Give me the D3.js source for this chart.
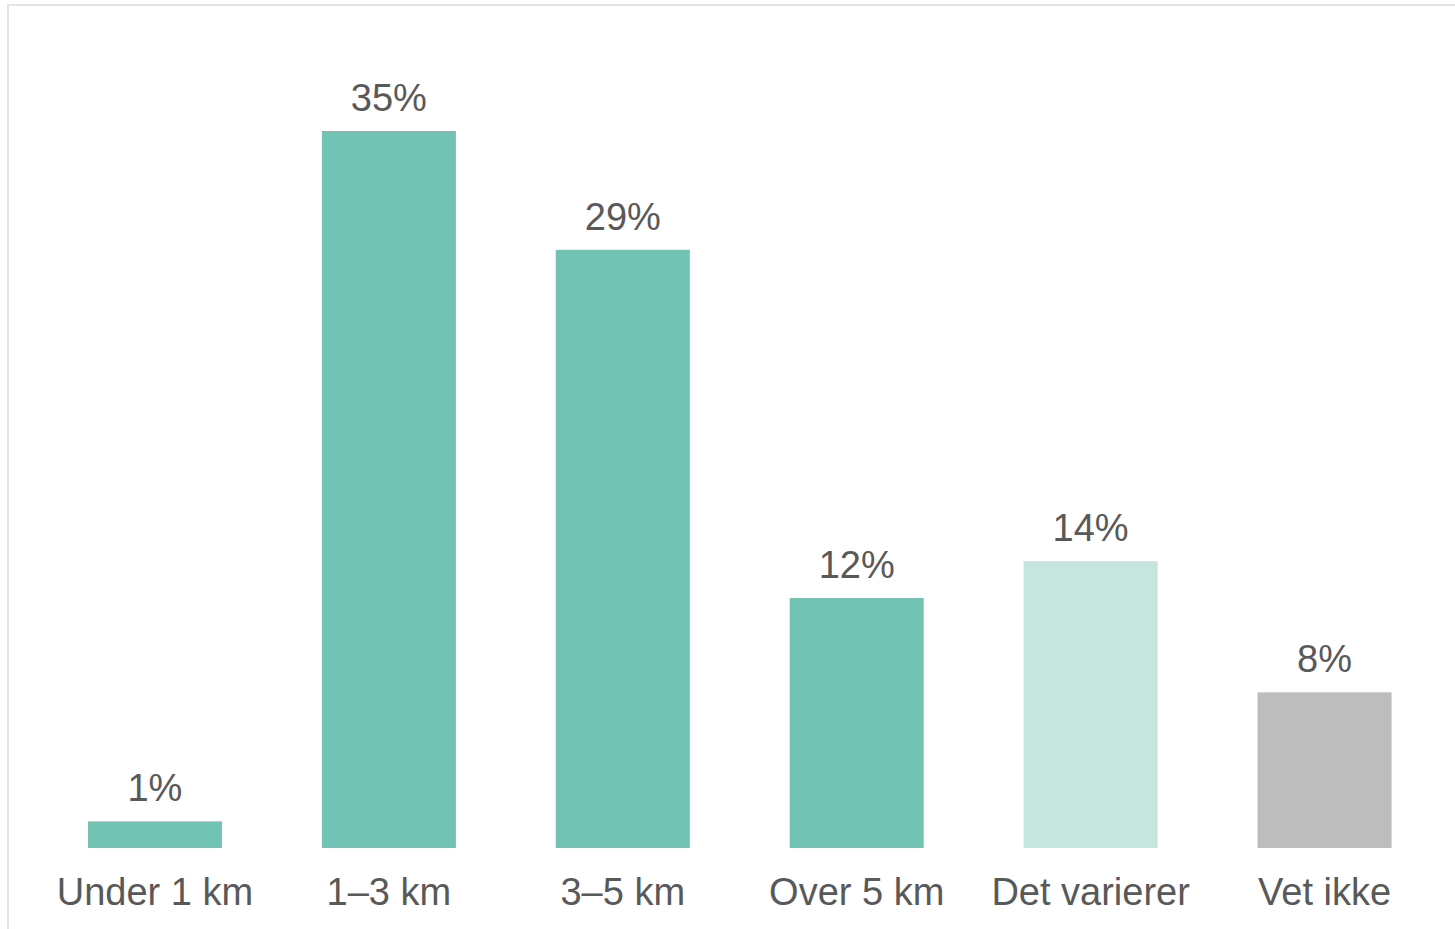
<html>

<head>
    <style>
        body { margin: 0; background: white; }
    </style>
</head>

<body>
    <svg id="container" height="929" width="1455">
        <g id="body" />
    </svg>
</body>
<script src="https://cdn.jsdelivr.net/npm/d3@7"></script>

<script>
    // data
    let categories = ["Under 1 km", "1–3 km", "3–5 km", "Over 5 km", "Det varierer", "Vet ikke"]
    let values = [1.3, 35, 29.2, 12.2, 14, 7.6]
    let labels = ["1%", "35%", "29%", "12%", "14%", "8%"]
    let barColors = ["#71c3b3", "#71c3b3", "#71c3b3", "#71c3b3", "#c5e6df", "#bdbdbd"]

    let svg = d3.select("#container")
    let body = d3.select("#body")
    let baseline = 848
    let font = "'Liberation Sans', Arial, sans-serif"

    // light frame (only top and left edges show)
    svg.insert("rect", "#body")
        .attr("x", 8).attr("y", 5)
        .attr("width", 1500).attr("height", 1000)
        .attr("fill", "white")
        .attr("stroke", "#e4e4e4")
        .attr("stroke-width", 2)

    let x = d3.scaleBand()
        .domain(categories)
        .range([38, 1441.5])
        .paddingInner(0.427)
        .paddingOuter(0.2135)

    let y = d3.scaleLinear()
        .domain([0, 35])
        .range([baseline, 131])

    let data = categories.map((c, i) => ({ cat: c, value: values[i], label: labels[i], color: barColors[i] }))

    body.selectAll("rect.bar").data(data)
        .enter().append("rect")
        .attr("class", "bar")
        .attr("x", d => x(d.cat))
        .attr("width", x.bandwidth())
        .attr("y", d => y(d.value))
        .attr("height", d => baseline - y(d.value))
        .attr("fill", d => d.color)

    body.selectAll("text.value").data(data)
        .enter().append("text")
        .attr("class", "value")
        .attr("x", d => x(d.cat) + x.bandwidth() / 2)
        .attr("y", d => y(d.value) - 20)
        .attr("text-anchor", "middle")
        .attr("font-family", font)
        .attr("font-size", 38)
        .attr("fill", "#595959")
        .text(d => d.label)

    // category axis labels
    let xAxis = d3.axisBottom(x).tickSize(0).tickPadding(0)
    let axisG = body.append("g")
        .attr("transform", `translate(0, ${baseline})`)
        .call(xAxis)
    axisG.select(".domain").remove()
    axisG.selectAll("text")
        .attr("dy", null)
        .attr("y", 57)
        .attr("font-family", font)
        .attr("font-size", 38)
        .attr("fill", "#595959")

</script>

</html>
